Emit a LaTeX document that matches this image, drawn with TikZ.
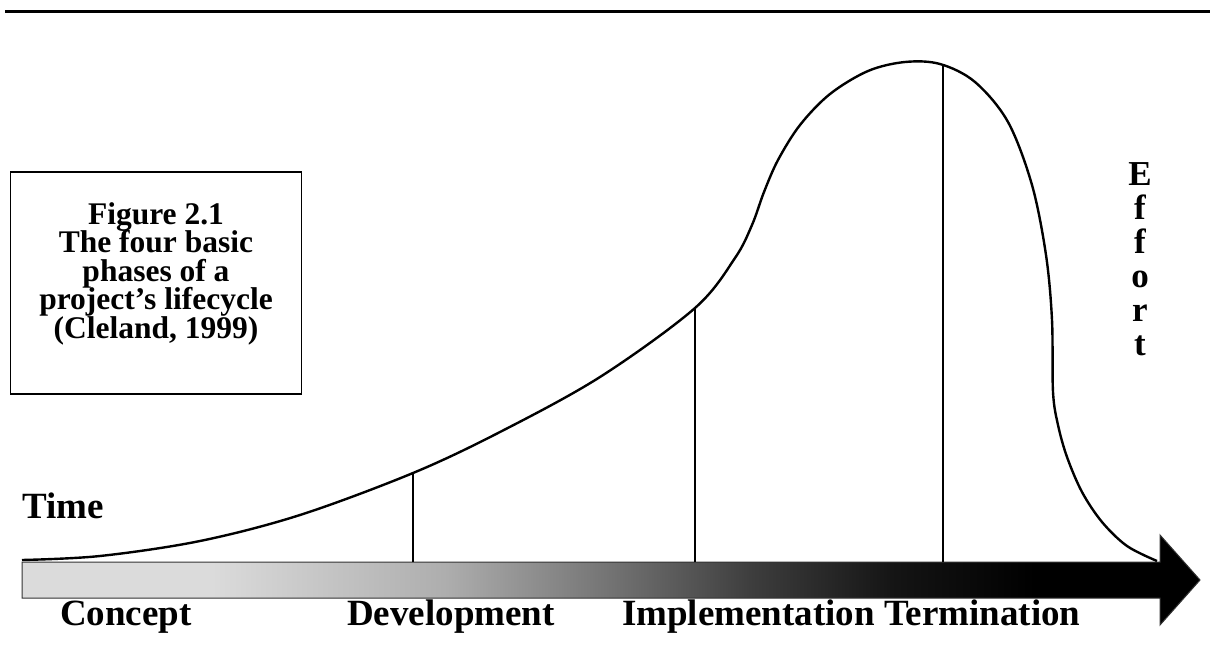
\documentclass[tikz,border=0pt]{standalone}
\usepackage{fontspec}
\setmainfont{Liberation Serif}

\definecolor{barlight}{gray}{0.86}
\pgfdeclarehorizontalshading{timebar}{100bp}{color(0bp)=(barlight); color(25bp)=(barlight); color(33bp)=(barlight); color(43bp)=(black!32); color(50bp)=(black!55); color(56bp)=(black!76); color(62bp)=(black!92); color(68bp)=(black); color(100bp)=(black)}
\newcommand{\captionfont}{\bfseries\fontsize{31.5}{28.5}\selectfont\lineskiplimit-100pt\relax}

\begin{document}
\begin{tikzpicture}[x=1pt,y=-1pt,
	every node/.style={inner sep=0pt,font=\bfseries\fontsize{37}{43}\selectfont},
	phase/.style={line width=2pt},
	effort/.style={line width=2.4pt,line join=round}]
	\useasboundingbox (0,0) rectangle (1210,648);
	
	\draw[line width=3pt] (5,11) -- (1210,11);
	
	\node[draw,line width=1.5pt,minimum width=291pt,minimum height=222pt] (B) at (156,283) {};
	\node[align=center,anchor=north,font=\captionfont] (Bt) at (156,202) {Figure 2.1\\The four basic\\phases of a\\project’s lifecycle\\(Cleland, 1999)};
	
	\shadedraw[shading=timebar,draw=black!80,line width=1pt] (22,562) -- (1160,562) -- (1160,535) -- (1200,580) -- (1160,625) -- (1160,598) -- (22,598) -- cycle;
	
	\draw[effort] plot[smooth,tension=0.55] coordinates {(22,560) (100,556) (200,541) (300,515) (413,473) (500,432) (600,377) (695,308) (735,258) (752,225) (764,192) (778,160) (800,125) (830,94) (868,71) (905,62) (940,64) (975,82) (1008,122) (1032,185) (1046,255) (1052,320) (1053,392) (1058,425) (1067,457) (1082,492) (1102,522) (1127,546) (1157,561)};
	
	\coordinate (d1) at (413,473);
	\coordinate (d1b) at (413,562);
	\coordinate (d2) at (695,308);
	\coordinate (d2b) at (695,562);
	\coordinate (d3) at (943,64);
	\coordinate (d3b) at (943,562);
	\draw[phase] (d1) -- (d1b);
	\draw[phase] (d2) -- (d2b);
	\draw[phase] (d3) -- (d3b);
	
	\node[anchor=base west] (T) at (22,518) {Time};
	\node[anchor=base west] (C) at (60,625) {Concept};
	\node[anchor=base west] (D) at (347,625) {Development};
	\node[anchor=base west] (I) at (622,625) {Implementation};
	\node[anchor=base west] (M) at ([xshift=9pt]I.base east) {Termination};
	
	\begin{scope}[every node/.append style={font=\bfseries\fontsize{35}{34}\selectfont}]
		\foreach \l [count=\i from 0] in {E,f,f,o,r,t}
			\node[anchor=base] (e\i) at (1140,185+34*\i) {\l};
	\end{scope}
\end{tikzpicture}
\end{document}
